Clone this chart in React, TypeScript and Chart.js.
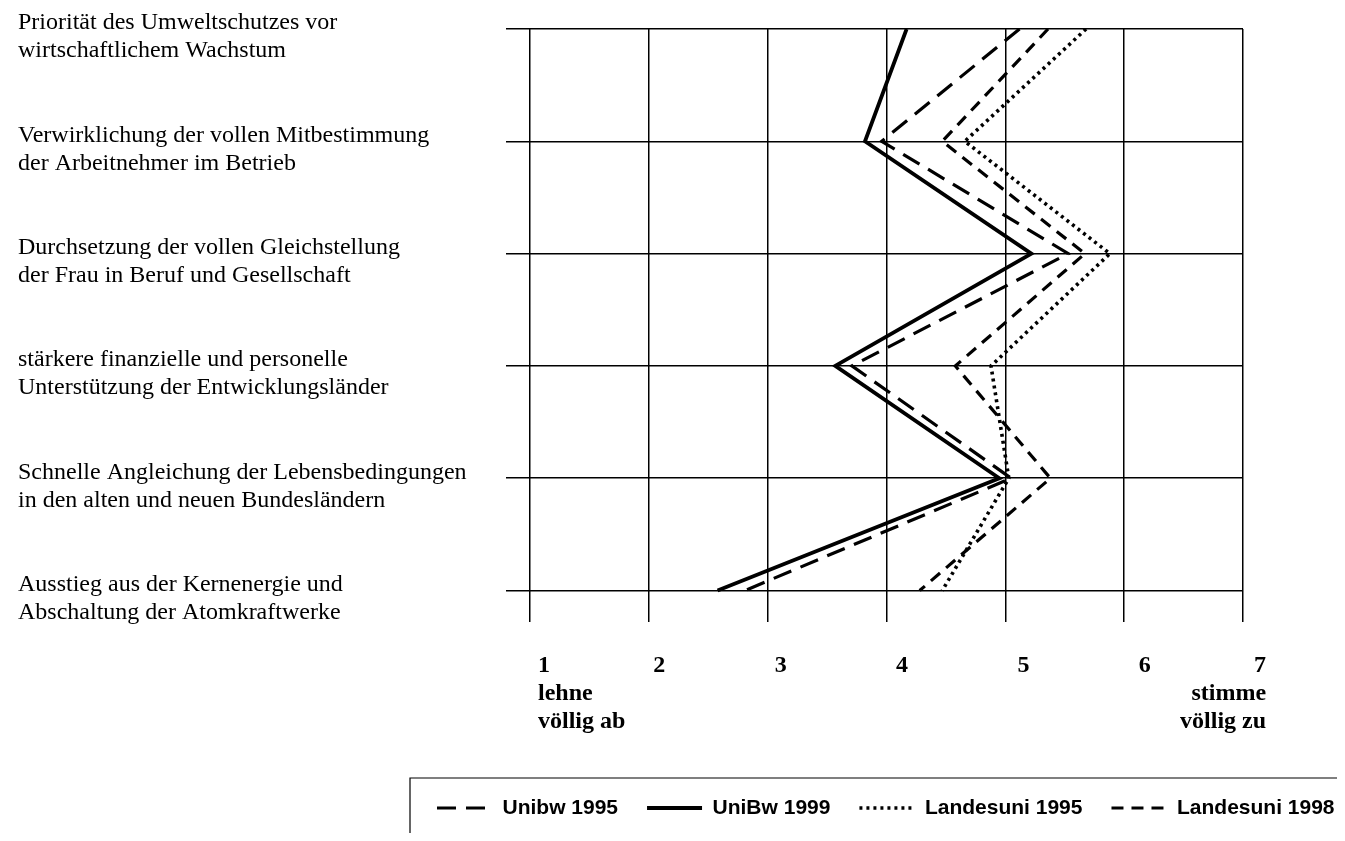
import React, { useEffect, useRef } from 'react';
import { Chart, registerables } from 'chart.js';

Chart.register(...registerables);

// Statements (vertical categories, top to bottom)
const STATEMENTS: string[][] = [
  ['Priorität des Umweltschutzes vor', 'wirtschaftlichem Wachstum'],
  ['Verwirklichung der vollen Mitbestimmung', 'der Arbeitnehmer im Betrieb'],
  ['Durchsetzung der vollen Gleichstellung', 'der Frau in Beruf und Gesellschaft'],
  ['stärkere finanzielle und personelle', 'Unterstützung der Entwicklungsländer'],
  ['Schnelle Angleichung der Lebensbedingungen', 'in den alten und neuen Bundesländern'],
  ['Ausstieg aus der Kernenergie und', 'Abschaltung der Atomkraftwerke'],
];

// Rating scale 1..7
const SCALE_VALUES = [1, 2, 3, 4, 5, 6, 7];
const SCALE_LABELS: string[][] = [
  ['1', 'lehne', 'völlig ab'],
  ['2'],
  ['3'],
  ['4'],
  ['5'],
  ['6'],
  ['7', 'stimme', 'völlig zu'],
];

// Mean ratings per statement
const UNIBW_1995 = [5.12, 3.96, 5.53, 3.71, 5.05, 2.81];
const UNIBW_1999 = [4.17, 3.82, 5.22, 3.57, 4.95, 2.58];
const LANDESUNI_1995 = [5.68, 4.66, 5.88, 4.88, 5.03, 4.47];
const LANDESUNI_1998 = [5.36, 4.47, 5.67, 4.58, 5.38, 4.28];

const SERIF = "'Liberation Serif', 'Times New Roman', Times, serif";
const SANS = "'Liberation Sans', Arial, Helvetica, sans-serif";

const toPoints = (vals: number[]) => vals.map((v, i) => ({ x: v, y: i }));

const zeroPad = (s: any) => {
  s.paddingLeft = 0;
  s.paddingRight = 0;
  s.paddingTop = 0;
  s.paddingBottom = 0;
};

const legendFrame = {
  id: 'legendFrame',
  afterLayout(chart: any) {
    const lg = chart.legend;
    if (lg) {
      lg.left = 400;
      lg.right = 3000;
    }
  },
  afterDraw(chart: any) {
    const lg = chart.legend;
    if (!lg) return;
    const ctx = chart.ctx;
    const x0 = lg.left + 2;
    const y0 = lg.top + 9.5;
    ctx.save();
    ctx.strokeStyle = '#000';
    ctx.lineWidth = 1.2;
    ctx.beginPath();
    ctx.moveTo(chart.width, y0);
    ctx.lineTo(x0, y0);
    ctx.lineTo(x0, chart.height);
    ctx.stroke();
    ctx.restore();
  },
};

export default function App() {
  const ref = useRef<HTMLCanvasElement | null>(null);

  useEffect(() => {
    if (!ref.current) return;
    const common = {
      showLine: true,
      pointRadius: 0,
      pointHoverRadius: 0,
      borderColor: '#000',
      backgroundColor: '#000',
      borderJoinStyle: 'miter',
      borderCapStyle: 'butt',
      tension: 0,
      xAxisID: 'x',
      yAxisID: 'y',
    };
    const datasets: any[] = [
      { ...common, label: 'Unibw 1995', data: toPoints(UNIBW_1995), borderWidth: 3.2, borderDash: [19, 10] },
      { ...common, label: 'UniBw 1999', data: toPoints(UNIBW_1999), borderWidth: 3.8, borderDash: [] },
      { ...common, label: 'Landesuni 1995', data: toPoints(LANDESUNI_1995), borderWidth: 3.6, borderDash: [3, 4] },
      { ...common, label: 'Landesuni 1998', data: toPoints(LANDESUNI_1998), borderWidth: 3.2, borderDash: [12, 8] },
    ];

    const chart = new Chart(ref.current, {
      type: 'scatter',
      data: { datasets },
      plugins: [legendFrame],
      options: {
        animation: false,
        responsive: false,
        maintainAspectRatio: false,
        layout: { padding: { left: 10, top: 21, right: 94, bottom: 4.5 } },
        plugins: {
          tooltip: { enabled: false },
          legend: {
            display: true,
            position: 'bottom',
            align: 'start',
            maxHeight: 60,
            labels: {
              usePointStyle: true,
              pointStyle: 'line',
              pointStyleWidth: 55,
              padding: 29,
              color: '#000',
              font: { family: SANS, size: 21, weight: 'bold' },
              generateLabels: (ch: any) =>
                ch.data.datasets.map((ds: any, i: number) => ({
                  text: ds.label,
                  fillStyle: '#000',
                  strokeStyle: '#000',
                  fontColor: '#000',
                  lineWidth: ds.borderWidth,
                  lineDash: ds.borderDash || [],
                  lineCap: 'butt',
                  pointStyle: 'line',
                  hidden: false,
                  datasetIndex: i,
                })),
            },
          },
        },
        scales: {
          x: {
            type: 'linear',
            position: 'bottom',
            min: 0.8,
            max: 7,
            afterBuildTicks: (s: any) => {
              s.ticks = SCALE_VALUES.map((v) => ({ value: v }));
            },
            grid: { color: '#000', lineWidth: 1.5, drawTicks: false },
            border: { display: false },
            ticks: { display: false },
            afterFit: (s: any) => {
              zeroPad(s);
              s.height = 0;
            },
          },
          x2: {
            type: 'linear',
            position: 'bottom',
            min: 0.736,
            max: 6.81,
            afterBuildTicks: (s: any) => {
              s.ticks = SCALE_VALUES.map((v) => ({ value: v }));
            },
            grid: { display: false, drawTicks: false },
            border: { display: false },
            ticks: {
              align: 'inner',
              autoSkip: false,
              maxRotation: 0,
              minRotation: 0,
              padding: 30,
              color: '#000',
              font: { family: SERIF, size: 24, weight: 'bold', lineHeight: '28px' },
              callback: (_v: any, i: number) => SCALE_LABELS[i],
            },
            afterFit: (s: any) => {
              zeroPad(s);
              s.height = 146.5;
            },
          },
          y: {
            type: 'linear',
            position: 'left',
            reverse: true,
            min: 0,
            max: 5.28,
            afterBuildTicks: (s: any) => {
              s.ticks = STATEMENTS.map((_, i) => ({ value: i }));
            },
            grid: { color: '#000', lineWidth: 1.5, drawTicks: false },
            border: { display: false },
            ticks: { display: false },
            afterFit: (s: any) => {
              zeroPad(s);
              s.width = 0;
            },
          },
          y2: {
            type: 'linear',
            position: 'left',
            reverse: true,
            min: -0.071,
            max: 5.209,
            afterBuildTicks: (s: any) => {
              s.ticks = STATEMENTS.map((_, i) => ({ value: i }));
            },
            grid: { display: false, drawTicks: false },
            border: { display: false },
            ticks: {
              crossAlign: 'far',
              autoSkip: false,
              padding: 0,
              color: '#000',
              font: { family: SERIF, size: 24, lineHeight: '28px' },
              callback: (_v: any, i: number) => STATEMENTS[i],
            },
            afterFit: (s: any) => {
              zeroPad(s);
              s.width = 488;
            },
          },
        },
      } as any,
    });
    return () => chart.destroy();
  }, []);

  return (
    <div style={{ width: 1329, height: 825 }}>
      <canvas ref={ref} width={1329} height={825} style={{ display: 'block', width: 1329, height: 825 }} />
    </div>
  );
}
